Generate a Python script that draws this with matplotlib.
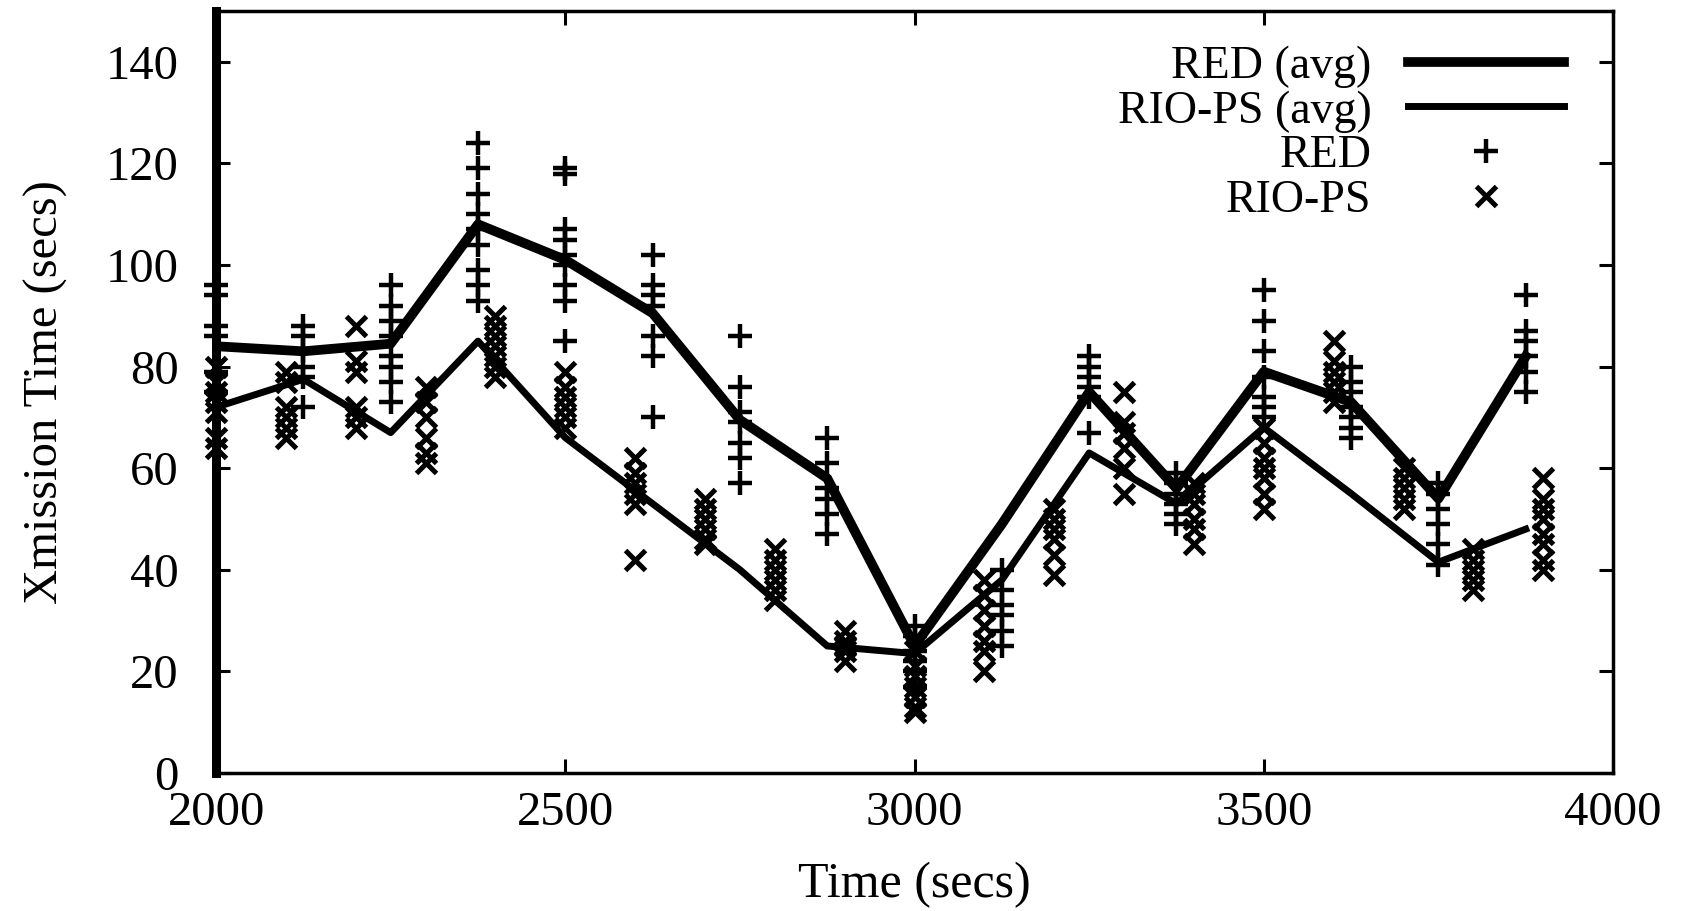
import numpy as np
import matplotlib
matplotlib.use('Agg')
import matplotlib.pyplot as plt

plt.rcParams['font.family'] = ['Liberation Serif', 'DejaVu Serif']

# averaged transmission time (one value per 125 s bin)
avg_x = [2000, 2125, 2250, 2375, 2500, 2625, 2750, 2875,
         3000, 3125, 3250, 3375, 3500, 3625, 3750, 3875]
red_avg = [84, 83, 84.5, 108, 101, 90.5, 69.5, 58,
           25, 49, 75, 56, 79, 73, 54, 82]
rio_avg = [72, 77.5, 67, 85, 66, 53, 40, 25,
           23.5, 38, 63, 53, 68, 55, 41.5, 48]

# individual RED samples
red_x = [2000, 2125, 2250, 2375, 2500, 2625, 2750, 2875,
         3000, 3125, 3250, 3375, 3500, 3625, 3750, 3875]
red_pts = [
    [96, 94, 88, 86, 79, 75],
    [88, 86, 83, 80, 78, 72],
    [96, 92, 89, 86, 82, 80, 77, 73],
    [124, 119, 114, 110, 107, 104, 99, 96, 93],
    [119, 118, 107, 105, 102, 100, 96, 93, 85],
    [102, 96, 94, 92, 86, 82, 70],
    [86, 76, 71, 69, 65, 62, 57],
    [66, 61, 56, 54, 51, 47],
    [29, 27, 24, 22, 20, 17],
    [40, 36, 33, 31, 28, 25],
    [82, 80, 78, 76, 74, 67],
    [59, 57, 55, 53, 51, 49],
    [95, 89, 83, 78, 74, 72, 70],
    [80, 77, 75, 72, 70, 68, 66],
    [57, 55, 52, 49, 45, 41],
    [94, 87, 85, 82, 79, 75],
]

# individual RIO-PS samples
rio_x = [2000, 2100, 2200, 2300, 2400, 2500, 2600, 2700, 2800, 2900,
         3000, 3100, 3200, 3300, 3400, 3500, 3600, 3700, 3800, 3900]
rio_pts = [
    [80, 77, 75, 73, 71, 66, 64],
    [79, 77, 72, 70, 68, 66],
    [88, 81, 79, 72, 70, 68],
    [76, 73, 70, 66, 63, 61],
    [90, 88, 86, 84, 82, 80, 78],
    [79, 76, 74, 72, 70, 68],
    [62, 59, 57, 55, 53, 42],
    [54, 52, 50, 48, 46, 45],
    [44, 42, 40, 38, 36, 34],
    [28, 26, 25, 24, 22],
    [24, 21, 19, 17, 15, 13, 12],
    [38, 35, 32, 29, 26, 24, 20],
    [52, 50, 48, 46, 43, 39],
    [75, 69, 67, 64, 60, 55],
    [57, 55, 53, 50, 48, 45],
    [68, 65, 62, 60, 58, 55, 52],
    [85, 81, 79, 77, 75, 73],
    [60, 58, 56, 54, 52],
    [44, 42, 40, 38, 36],
    [58, 54, 52, 50, 47, 45, 42, 40],
]

red_px = [x for x, v in zip(red_x, red_pts) for _ in v]
red_py = [y for v in red_pts for y in v]
rio_px = [x for x, v in zip(rio_x, rio_pts) for _ in v]
rio_py = [y for v in rio_pts for y in v]

fig = plt.figure(figsize=(16.88, 9.11), dpi=100)
ax = fig.add_axes([0.128, 0.1515, 0.8276, 0.8365])

ax.plot(avg_x, red_avg, color='black', lw=7, label='RED (avg)')
ax.plot(avg_x, rio_avg, color='black', lw=5, label='RIO-PS (avg)')
ax.plot(red_px, red_py, '+', color='black', ms=17, mew=3.2, clip_on=False, label='RED')
ax.plot(rio_px, rio_py, 'x', color='black', ms=15, mew=3.6, clip_on=False, label='RIO-PS')

ax.set_xlim(2000, 4000)
ax.set_ylim(0, 150)
ax.set_xticks([2000, 2500, 3000, 3500, 4000])
ax.set_yticks(np.arange(0, 141, 20))

for side in ['top', 'right', 'bottom']:
    ax.spines[side].set_linewidth(2.5)
ax.spines['left'].set_linewidth(6.5)

ax.tick_params(axis='both', direction='in', length=10, width=2.2,
               top=True, right=True, labelsize=35)
ax.tick_params(axis='x', pad=13)
ax.tick_params(axis='y', pad=27)

ax.set_xlabel('Time (secs)', fontsize=36, labelpad=19)
ax.set_ylabel('Xmission Time (secs)', fontsize=35, labelpad=27)

leg = ax.legend(loc='upper right', bbox_to_anchor=(0.965, 0.955), frameon=False,
                markerfirst=False, fontsize=33, handlelength=3.4, handletextpad=0.8,
                labelspacing=0.05, borderaxespad=0, borderpad=0)

fig.savefig('out.png', dpi=100)
